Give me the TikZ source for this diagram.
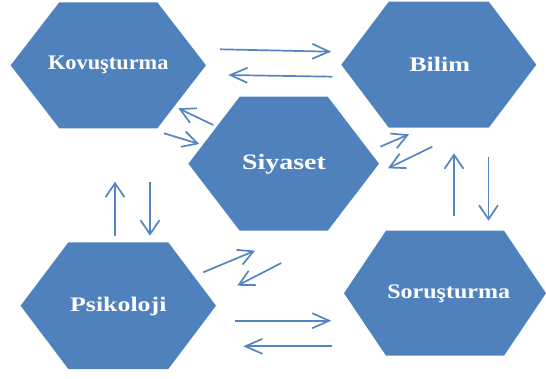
\documentclass[tikz,border=0pt]{standalone}
\usepackage{fontspec}
\setmainfont{Liberation Serif}
\usetikzlibrary{arrows.meta}
\definecolor{hexblue}{HTML}{4F81BD}
\definecolor{arrblue}{HTML}{5584C2}
\tikzset{
  hexfill/.style={fill=hexblue},
  lbl/.style={text=white, font=\bfseries\fontsize{20.7}{24}\selectfont, inner sep=0pt},
  biglbl/.style={lbl, font=\bfseries\fontsize{22}{26}\selectfont},
  arrh/.style={draw=arrblue, line width=1.7pt, -{Straight Barb[length=17pt,width=15pt,line width=1.7pt]}},
  arrv/.style={draw=arrblue, line width=1.7pt, -{Straight Barb[length=14pt,width=19pt,line width=1.7pt]}},
  arrd/.style={draw=arrblue, line width=1.7pt, -{Straight Barb[length=15pt,width=16pt,line width=1.7pt]}},
}
\newcommand\myhex[6]{% name, cx, cy, half width, half top edge, half height
  \fill[hexfill] (#2-#4,#3) -- (#2-#5,#3-#6) -- (#2+#5,#3-#6) -- (#2+#4,#3)
    -- (#2+#5,#3+#6) -- (#2-#5,#3+#6) -- cycle;
  \coordinate (#1) at (#2,#3);}
\begin{document}
\begin{tikzpicture}[x=1pt,y=-1pt]
\useasboundingbox (0,0) rectangle (546,378);
% hexagons
\myhex{kov}{108.3}{65.3}{97.7}{49}{63}
\myhex{bil}{438.8}{64.7}{97.5}{50}{63}
\myhex{siy}{283.7}{163.7}{95.3}{44}{67}
\myhex{psi}{118.3}{305.7}{97.7}{50}{63.3}
\myhex{sor}{445}{293.2}{101}{59}{62.5}
% labels
\node[lbl] (kovt) at (108.3,64.8) {\scalebox{1.08}[1]{Kovuşturma}};
\node[lbl] (bilt) at (439.7,64.8) {\scalebox{1.26}[1]{Bilim}};
\node[biglbl] (siyt) at (284,163.8) {\scalebox{1.27}[1]{Siyaset}};
\node[lbl] (psit) at (118.3,306.2) {\scalebox{1.25}[1]{Psikoloji}};
\node[lbl] (sort) at (448.7,293.5) {\scalebox{1.16}[1]{Soruşturma}};
% arrow end points
\coordinate (a1s) at (220,49.3);   \coordinate (a1e) at (331.3,51.7);
\coordinate (a2s) at (332.3,76.7); \coordinate (a2e) at (228.3,75);
\coordinate (a3s) at (213.3,125);  \coordinate (a3e) at (178.3,108.3);
\coordinate (a4s) at (164,133.3);  \coordinate (a4e) at (199.3,144);
\coordinate (a5s) at (380.3,146.7); \coordinate (a5e) at (409,134.3);
\coordinate (a6s) at (432.3,146.7); \coordinate (a6e) at (388,168.3);
\coordinate (a7s) at (454,216.3);  \coordinate (a7e) at (454,153.3);
\coordinate (a8s) at (488.5,156.7); \coordinate (a8e) at (488.5,220.7);
\coordinate (a9s) at (115,236.3);  \coordinate (a9e) at (115,181.7);
\coordinate (a10s) at (150,181.7); \coordinate (a10e) at (150,235.7);
\coordinate (a11s) at (203.3,272.3); \coordinate (a11e) at (255,250.7);
\coordinate (a12s) at (281.3,263); \coordinate (a12e) at (237.3,285.7);
\coordinate (a13s) at (235,320.7); \coordinate (a13e) at (331.3,320.7);
\coordinate (a14s) at (332.3,346.3); \coordinate (a14e) at (243.3,346.3);
% arrows
\draw[arrh] (a1s) -- (a1e);
\draw[arrh] (a2s) -- (a2e);
\draw[arrd] (a3s) -- (a3e);
\draw[arrd] (a4s) -- (a4e);
\draw[arrd] (a5s) -- (a5e);
\draw[arrd] (a6s) -- (a6e);
\draw[arrv] (a7s) -- (a7e);
\draw[arrv] (a8s) -- (a8e);
\draw[arrv] (a9s) -- (a9e);
\draw[arrv] (a10s) -- (a10e);
\draw[arrd] (a11s) -- (a11e);
\draw[arrd] (a12s) -- (a12e);
\draw[arrh] (a13s) -- (a13e);
\draw[arrh] (a14s) -- (a14e);
\end{tikzpicture}
\end{document}
